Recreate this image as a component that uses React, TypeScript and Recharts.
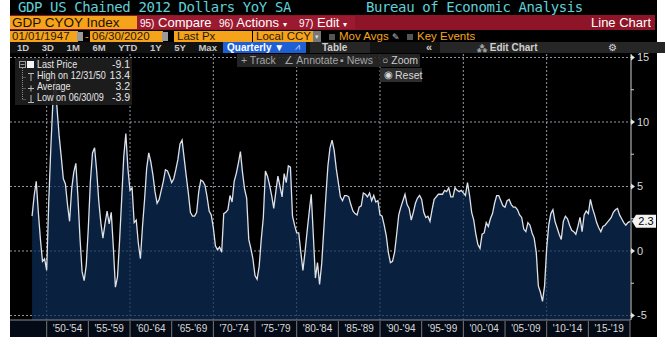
import React from "react";
import { AreaChart, Area, XAxis, YAxis, CartesianGrid, ReferenceDot } from "recharts";

// GDP US chained 2012 dollars, YoY %, quarterly (plotted at quarter end), 1948 Q1 .. 2019 Q4
const firstYear = 1948;
const yoy1948to1959 = [
  2.7, 4.3, 5.4, 3.0, 0.9, -0.8, -0.6, -1.5, 3.8, 8.0, 11.6, 13.4,
  11.0, 8.9, 7.3, 5.6, 5.2, 3.6, 2.3, 4.8, 6.1, 6.8, 4.2, 1.0,
  -1.6, -2.3, -1.1, 1.8, 5.4, 7.6, 8.0, 6.2, 3.9, 2.2, 1.0, 2.1,
  3.1, 2.1, 3.0, 0.3, -2.8, -2.0, 0.8, 4.0, 7.3, 9.1, 6.4, 4.7,
];
const yoy1960s = [
  4.9, 2.2, 2.4, 0.6, -0.6, 1.9, 4.0, 6.4, 7.6, 6.9, 5.9, 4.6,
  3.7, 4.0, 4.7, 5.4, 6.3, 6.2, 5.8, 5.3, 5.6, 6.3, 7.1, 8.3,
  8.6, 7.2, 5.8, 4.5, 3.0, 2.7, 2.7, 3.0, 4.6, 5.5, 5.4, 5.1,
  4.2, 3.1, 2.8, 1.8,
];
const yoy1970s = [
  0.4, 0.1, 0.3, -0.1, 2.9, 3.0, 3.2, 4.3, 3.8, 5.4, 6.0, 6.8,
  7.7, 6.1, 4.8, 4.1, 0.9, 0.2, -0.6, -1.9, -2.2, -1.2, 0.9, 2.6,
  6.2, 5.8, 5.1, 4.3, 3.3, 4.6, 5.8, 5.0, 4.2, 6.0, 5.3, 6.6,
  6.5, 2.7, 2.0, 1.4,
];
const yoy1980s = [
  1.4, -0.1, -1.5, -0.1, 1.5, 3.0, 4.4, 1.2, -2.1, -0.9, -2.6, -1.0,
  1.6, 4.2, 6.6, 8.0, 8.6, 7.8, 6.4, 5.3, 4.2, 3.9, 4.3, 4.3,
  4.2, 3.6, 3.1, 2.9, 2.8, 3.4, 3.5, 4.5, 4.4, 4.2, 4.5, 3.9,
  4.3, 3.8, 3.9, 2.8,
];
const yoy1990s = [
  2.7, 2.0, 1.2, -0.1, -0.9, -0.8, -0.1, 1.3, 2.8, 3.4, 3.9, 4.4,
  3.6, 3.3, 2.4, 3.0, 3.7, 4.1, 4.3, 4.0, 3.0, 2.6, 2.7, 2.3,
  3.2, 4.0, 4.2, 4.4, 4.4, 4.4, 4.7, 4.6, 4.9, 4.2, 4.2, 4.9,
  4.7, 4.6, 4.7, 4.5,
];
const yoy2000s = [
  4.3, 5.3, 4.3, 3.0, 2.4, 1.3, 0.5, 0.2, 1.3, 1.4, 2.2, 1.9,
  2.5, 2.9, 3.7, 4.3, 4.3, 3.9, 3.5, 3.4, 3.9, 4.0, 3.6, 3.4,
  3.4, 3.2, 2.8, 2.6, 1.7, 1.5, 2.2, 2.0, 1.4, 1.0, -0.1, -2.7,
  -3.2, -3.9, -2.7, 0.2,
];
const yoy2010s = [
  2.0, 2.9, 3.2, 2.3, 1.8, 1.3, 0.9, 2.3, 2.7, 2.5, 2.0, 1.6,
  1.5, 1.3, 1.9, 2.6, 1.5, 2.8, 3.1, 2.9, 4.0, 3.3, 2.8, 2.2,
  1.8, 1.5, 1.9, 2.0, 2.2, 2.4, 2.6, 3.0, 3.2, 3.3, 2.8, 2.5,
  2.2, 2.0, 2.2, 2.3,
];

const periodTicks = [1952.5, 1957.5, 1962.5, 1967.5, 1972.5, 1977.5, 1982.5, 1987.5, 1992.5, 1997.5, 2002.5, 2007.5, 2012.5, 2017.5];
const periodLabels = ["'50-'54", "'55-'59", "'60-'64", "'65-'69", "'70-'74", "'75-'79", "'80-'84", "'85-'89", "'90-'94", "'95-'99", "'00-'04", "'05-'09", "'10-'14", "'15-'19"];
const decadeLines = [1950, 1960, 1970, 1980, 1990, 2000, 2010];
const valueTicks = [15, 12.5, 10, 7.5, 5, 2.5, 0, -2.5, -5];
const valueGrid = [15, 10, 5, 0, -5];

const legendLabels = ["Last Price", "High on 12/31/50", "Average", "Low on 06/30/09"];
const legendValues = ["-9.1", "13.4", "3.2", "-3.9"];
const rangeButtons = ["1D", "3D", "1M", "6M", "YTD", "1Y", "5Y", "Max"];

const data = [...yoy1948to1959, ...yoy1960s, ...yoy1970s, ...yoy1980s, ...yoy1990s, ...yoy2000s, ...yoy2010s].map(
  (v, i) => ({ date: firstYear + (i + 1) / 4, yoy: v })
);
const last = data[data.length - 1];

const ORANGE = "#f6a31c";
const GRID = "#9399a2";
const sans = "'Liberation Sans', Arial, sans-serif";

function PeriodTick({ x, y, index }: any) {
  const half = 20.8;
  return (
    <g>
      <line x1={x - half} x2={x - half} y1={y + 1} y2={y + 17} stroke="#777" />
      {index === periodLabels.length - 1 && <line x1={x + half} x2={x + half} y1={y + 1} y2={y + 17} stroke="#777" />}
      <text x={x} y={y + 12} textAnchor="middle" fill="#d8d8d8" fontSize={10} fontFamily={sans}>
        {periodLabels[index]}
      </text>
    </g>
  );
}

function ValueTick({ x, y, payload }: any) {
  const v = payload.value;
  if (v % 5 !== 0) return <line x1={x} x2={x + 3} y1={y} y2={y} stroke="#cfcfcf" />;
  return (
    <g>
      <path d={`M${x} ${y - 3}L${x + 4} ${y}L${x} ${y + 3}Z`} fill="#e0e0e0" />
      <text x={x + 6} y={y + 4} fill="#d8d8d8" fontSize={11} fontFamily={sans}>
        {v}
      </text>
    </g>
  );
}

function LastTag({ cx, cy }: any) {
  return (
    <g>
      <path d={`M${cx + 2} ${cy}L${cx + 6} ${cy - 6.5}L${cx + 26} ${cy - 6.5}L${cx + 26} ${cy + 6.5}L${cx + 6} ${cy + 6.5}Z`} fill="#f2f2f2" />
      <text x={cx + 16} y={cy + 4} textAnchor="middle" fill="#000" fontSize={11} fontFamily={sans}>
        {last.yoy}
      </text>
    </g>
  );
}

function Abs({ l, t, w, h, bg, color, size, children, style }: any) {
  return (
    <div
      style={{
        position: "absolute", left: l, top: t, width: w, height: h, background: bg, color,
        fontSize: size, lineHeight: h + "px", whiteSpace: "nowrap", overflow: "hidden", ...style,
      }}
    >
      {children}
    </div>
  );
}

function Header() {
  const mono = { fontFamily: "'DejaVu Sans Mono', monospace", letterSpacing: -0.4 };
  const red = "#8e1427";
  return (
    <>
      <Abs l={18} t={0} h={15} size={14} color="#5fd0d8" style={mono}>GDP US Chained 2012 Dollars YoY SA</Abs>
      <Abs l={366} t={0} h={15} size={14} color="#5fd0d8" style={mono}>Bureau of Economic Analysis</Abs>

      <Abs l={10} t={15} w={645} h={15} bg={red} />
      <Abs l={10} t={16} w={125} h={13} bg={ORANGE} color="#1c1000" size={13.5} style={{ paddingLeft: 2 }}>GDP CYOY Index</Abs>
      <Abs l={137} t={16} w={78} h={13} bg="#9c1a2f" color="#fff" size={13} style={{ paddingLeft: 3 }}>
        <span style={{ fontSize: 10 }}>95)</span> Compare
      </Abs>
      <Abs l={217} t={16} w={78} h={13} bg="#9c1a2f" color="#fff" size={13} style={{ paddingLeft: 2 }}>
        <span style={{ fontSize: 10 }}>96)</span> Actions <span style={{ fontSize: 8 }}>▾</span>
      </Abs>
      <Abs l={297} t={16} w={56} h={13} bg="#9c1a2f" color="#fff" size={13} style={{ paddingLeft: 2 }}>
        <span style={{ fontSize: 10 }}>97)</span> Edit <span style={{ fontSize: 8 }}>▾</span>
      </Abs>
      <Abs l={560} t={16} w={91} h={13} color="#fff" size={13} style={{ textAlign: "right" }}>Line Chart</Abs>

      <Abs l={10} t={31} w={66} h={11} bg={ORANGE} color="#2a1800" size={11.5} style={{ paddingLeft: 2 }}>01/01/1947</Abs>
      <Abs l={77} t={32} w={6} h={9} bg="#9a9a9a" />
      <Abs l={85} t={30} h={12} color={ORANGE} size={11}>-</Abs>
      <Abs l={90} t={31} w={71} h={11} bg={ORANGE} color="#2a1800" size={11.5} style={{ paddingLeft: 2 }}>06/30/2020</Abs>
      <Abs l={162} t={32} w={6} h={9} bg="#9a9a9a" />
      <Abs l={174} t={31} w={75} h={11} bg={ORANGE} color="#2a1800" size={11.5} style={{ paddingLeft: 3 }}>Last Px</Abs>
      <Abs l={253} t={31} w={59} h={11} bg={ORANGE} color="#2a1800" size={11.5} style={{ paddingLeft: 3 }}>Local CCY</Abs>
      <Abs l={313} t={31} w={8} h={11} bg="#777" color="#ddd" size={7} style={{ textAlign: "center" }}>▾</Abs>
      <Abs l={329} t={34} w={6} h={6} bg="#555" />
      <Abs l={339} t={30} h={12} color={ORANGE} size={11.5}>Mov Avgs <span style={{ color: "#ccc", fontSize: 9 }}>✎</span></Abs>
      <Abs l={407} t={34} w={6} h={6} bg="#555" />
      <Abs l={417} t={30} h={12} color={ORANGE} size={11.5}>Key Events</Abs>

      <Abs l={10} t={42} w={645} h={11} bg="#121212" />
      <div style={{ position: "absolute", left: 17, top: 42, width: 200, height: 11, display: "flex", justifyContent: "space-between", fontSize: 9.5, lineHeight: "11px", color: "#c8c8c8", fontWeight: 700 }}>
        {rangeButtons.map((b) => <span key={b}>{b}</span>)}
      </div>
      <Abs l={223} t={42} w={61} h={11} bg="#1f5fd6" color="#fff" size={10} style={{ paddingLeft: 4, fontWeight: 700 }}>Quarterly ▼</Abs>
      <Abs l={288} t={42} w={18} h={11} bg="#1f5fd6" color="#cfe0ff" size={9} style={{ textAlign: "center" }}>⩘</Abs>
      <Abs l={310} t={42} w={48} h={11} bg="#262626" color="#d0d0d0" size={10} style={{ paddingLeft: 12, fontWeight: 700 }}>Table</Abs>
      <Abs l={426} t={42} w={12} h={11} color="#ccc" size={11} style={{ fontWeight: 700 }}>«</Abs>
      <Abs l={440} t={42} w={214} h={11} bg="#262626" color="#d0d0d0" size={10} style={{ paddingLeft: 37, fontWeight: 700 }}>
        <span style={{ fontSize: 9, color: "#aaa" }}>⁂</span> Edit Chart
      </Abs>
      <Abs l={608} t={42} w={10} h={11} color="#ddd" size={10}>⚙</Abs>
    </>
  );
}

function LegendBox() {
  return (
    <div style={{ position: "absolute", left: 15, top: 58, width: 117, height: 47, background: "rgba(30,30,30,0.93)", fontFamily: sans }}>
      <svg width={22} height={47} style={{ position: "absolute", left: 0, top: 0 }}>
        <rect x={4.5} y={3.5} width={6} height={6} fill="none" stroke="#999" />
        <line x1={5.5} x2={9.5} y1={6.5} y2={6.5} stroke="#999" />
        <line x1={7.5} x2={7.5} y1={10} y2={41} stroke="#888" strokeDasharray="1 1" />
        {[19, 30, 41].map((y) => <line key={y} x1={7.5} x2={11} y1={y + 0.5} y2={y + 0.5} stroke="#888" strokeDasharray="1 1" />)}
        <rect x={12} y={3} width={7} height={7} fill="#f4f4f4" />
        <path d="M13 15.5H19M16 15.5V23" stroke="#bbb" />
        <path d="M13 30.5H19M16 27.5V33.5" stroke="#bbb" />
        <path d="M13 44.5H19M16 37V44.5" stroke="#bbb" />
      </svg>
      {legendLabels.map((lab, i) => (
        <div key={lab} style={{ position: "absolute", left: 22, top: 1 + i * 11, width: 93, height: 11, lineHeight: "11px", fontSize: 10.5, color: "#e8e8e8", whiteSpace: "nowrap" }}>
          <span style={{ display: "inline-block", transform: "scaleX(0.86)", transformOrigin: "left" }}>{lab}</span>
          <span style={{ position: "absolute", right: 0, top: 0 }}>{legendValues[i]}</span>
        </div>
      ))}
    </div>
  );
}

function ChartTools() {
  return (
    <>
      <div style={{ position: "absolute", left: 237, top: 54, width: 183, height: 13, background: "rgba(40,40,40,0.9)", fontFamily: sans, fontSize: 10.5, lineHeight: "13px", color: "#a6a6a6", whiteSpace: "nowrap" }}>
        <span style={{ position: "absolute", left: 4 }}>+ Track</span>
        <span style={{ position: "absolute", left: 47 }}>∠ Annotate</span>
        <span style={{ position: "absolute", left: 103 }}>▪ News</span>
        <span style={{ position: "absolute", left: 145, color: "#ccc" }}>○ Zoom</span>
      </div>
      <div style={{ position: "absolute", left: 380, top: 68, width: 42, height: 14, background: "#2e2e2e", fontFamily: sans, fontSize: 10.5, lineHeight: "14px", color: "#d8d8d8", whiteSpace: "nowrap" }}>
        <span style={{ position: "absolute", left: 4, fontSize: 10 }}>◉</span>
        <span style={{ position: "absolute", left: 15 }}>Reset</span>
      </div>
    </>
  );
}

export default function App() {
  return (
    <div style={{ position: "fixed", left: 0, top: 0, width: 665, height: 344, background: "#fff", fontFamily: sans, overflow: "hidden" }}>
      <div style={{ position: "absolute", left: 10, top: 0, width: 647, height: 337, background: "#000" }} />
      <Header />
      <div style={{ position: "absolute", left: 10, top: 320, width: 621, height: 17, background: "#050b16" }} />
      <div style={{ position: "absolute", left: 10, top: 50 }}>
        <AreaChart width={647} height={287} data={data} margin={{ top: 4, right: 0, bottom: 0, left: 0 }}>
          <XAxis
            dataKey="date"
            type="number"
            domain={[1945.6, 2020.12]}
            allowDataOverflow
            ticks={periodTicks}
            interval={0}
            height={17}
            axisLine={{ stroke: "#8c8c8c" }}
            tickLine={false}
            tickSize={0}
            tickMargin={0}
            tick={(p: any) => <PeriodTick {...p} />}
          />
          <YAxis
            orientation="right"
            type="number"
            domain={[-5.349, 15.271]}
            allowDataOverflow
            ticks={valueTicks}
            interval={0}
            width={26}
            axisLine={{ stroke: "#cfcfcf" }}
            tickLine={false}
            tickSize={0}
            tickMargin={0}
            tick={(p: any) => <ValueTick {...p} />}
          />
          <CartesianGrid
            horizontalValues={valueGrid}
            verticalValues={decadeLines}
            stroke={GRID}
            strokeWidth={1}
            strokeDasharray="2 2"
          />
          <Area
            type="linear"
            dataKey="yoy"
            stroke="#dde1e8"
            strokeWidth={1.3}
            fill="#0c2d58"
            fillOpacity={0.72}
            baseValue="dataMin"
            dot={false}
            activeDot={false}
            isAnimationActive={false}
          />
          <ReferenceDot x={last.date} y={last.yoy} ifOverflow="visible" shape={(p: any) => <LastTag {...p} />} />
        </AreaChart>
      </div>
      <LegendBox />
      <ChartTools />
    </div>
  );
}
